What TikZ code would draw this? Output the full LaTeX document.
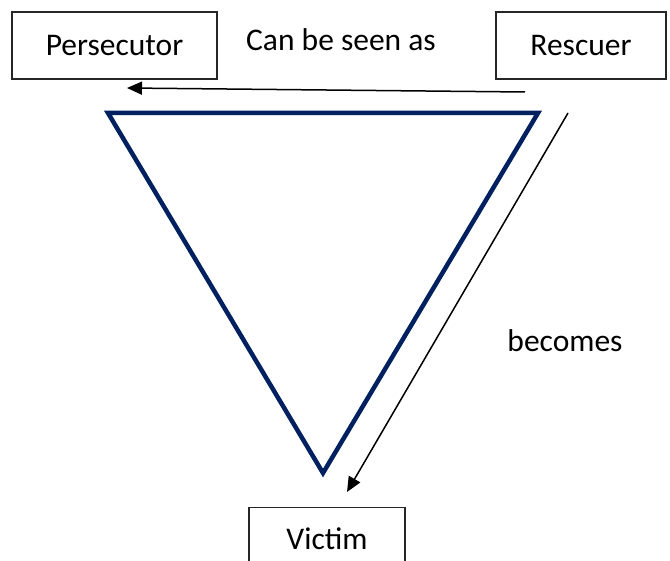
\documentclass[tikz,border=0pt]{standalone}
\usepackage{fontspec}
\setmainfont{Carlito}
\usetikzlibrary{arrows.meta}
\definecolor{navy}{RGB}{0,32,96}
\tikzset{
  rolebox/.style={draw=black!85, line width=1.3pt, inner sep=0pt, font=\fontsize{31.5}{38}\selectfont},
  lbl/.style={font=\fontsize{31.5}{38}\selectfont, inner sep=0pt},
  conn/.style={draw=black, line width=1.5pt, -{Triangle[length=15pt,width=13pt]}}
}
\begin{document}
\begin{tikzpicture}[x=1pt,y=-1pt]
\useasboundingbox (0,0) rectangle (670,561);
\node[rolebox, minimum width=205pt, minimum height=67pt] (pers) at (114.5,45.5) {Persecutor};
\node[rolebox, minimum width=170pt, minimum height=67pt] (resc) at (581,45.5) {Rescuer};
\node[rolebox, minimum width=156pt, minimum height=62pt, anchor=north] (vict) at (327,507) {Victim};
\node[lbl] (seen) at (341,40) {Can be seen as};
\node[lbl] (becomes) at (565,341) {becomes};
\coordinate (t1) at (108,113);
\coordinate (t2) at (538,113);
\coordinate (t3) at (323,473);
\draw[navy, line width=4.5pt, line join=miter] (t1) -- (t2) -- (t3) -- cycle;
\coordinate (a1s) at (525,92);
\coordinate (a1e) at (127,88);
\draw[conn] (a1s) -- (a1e);
\coordinate (a2s) at (568,113);
\coordinate (a2e) at (347,492);
\draw[conn] (a2s) -- (a2e);
\end{tikzpicture}
\end{document}
